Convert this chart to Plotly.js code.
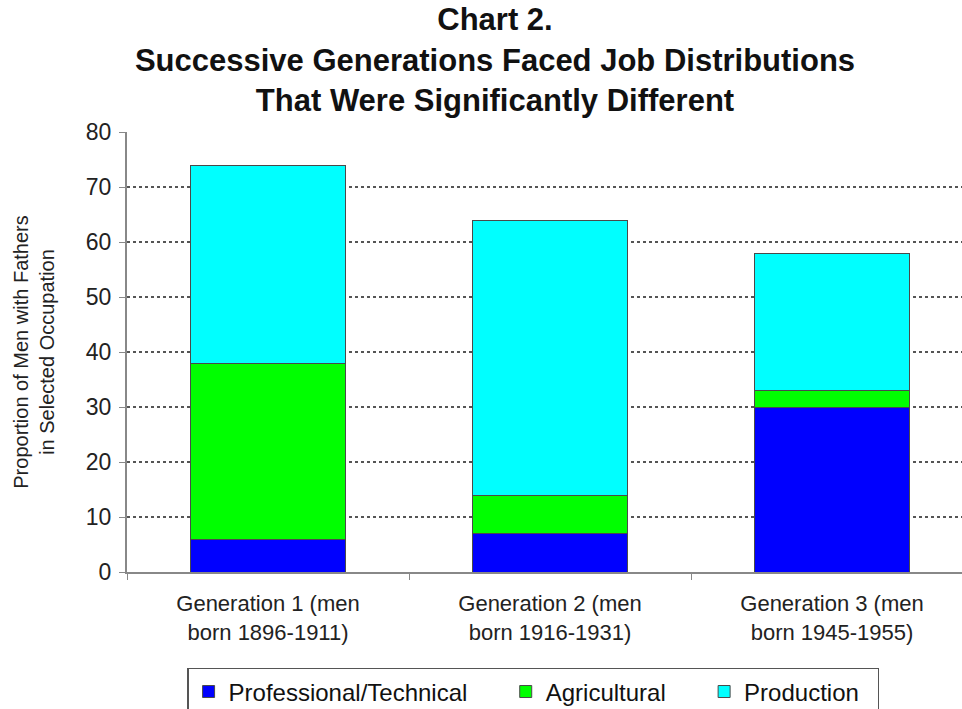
<!DOCTYPE html>
<html>
<head>
<meta charset="utf-8">
<script src="https://cdn.plot.ly/plotly-3.0.1.min.js"></script>
<style>
  html, body { margin: 0; padding: 0; overflow: hidden; background: #fff; }
  #chart { width: 990px; height: 709px; }
</style>
</head>
<body>
<div id="chart"></div>
<script>
// Generations compared
const generations = [
  "Generation 1 (men<br>born 1896-1911)",
  "Generation 2 (men<br>born 1916-1931)",
  "Generation 3 (men<br>born 1945-1955)"
];

// Share of men whose fathers held each occupation type (stacked)
const professionalTechnical = [6, 7, 30];
const agricultural = [32, 7, 3];
const production = [36, 50, 25];

const seriesNames = ["Professional/Technical", "Agricultural", "Production"];
const seriesColors = ["#0000FF", "#00FF00", "#00FFFF"];
const seriesValues = [professionalTechnical, agricultural, production];

const yTicks = [0, 10, 20, 30, 40, 50, 60, 70, 80];

// trailing no-break spaces widen the gaps inside the legend box
const legendPads = ["\u00a0\u00a0\u00a0\u00a0\u00a0", "\u00a0\u00a0\u00a0\u00a0\u00a0", "\u00a0\u00a0"];

const traces = seriesValues.map((vals, i) => ({
  type: "bar",
  name: seriesNames[i] + legendPads[i],
  x: generations,
  y: vals,
  marker: { color: seriesColors[i], line: { color: "#4a4a4a", width: 1 } },
  hoverinfo: "x+y"
}));

const layout = {
  width: 990,
  height: 709,
  barmode: "stack",
  bargap: 0.447,
  paper_bgcolor: "#ffffff",
  plot_bgcolor: "#ffffff",
  font: { family: "Arial, 'Liberation Sans', sans-serif", color: "#111" },
  margin: { l: 127, r: 17, t: 132, b: 137, autoexpand: false },
  title: {
    text: "<b>Chart 2.<br>Successive Generations Faced Job Distributions<br>That Were Significantly Different</b>",
    font: { size: 31, color: "#111", family: "Arial, 'Liberation Sans', sans-serif" },
    x: 0.5, xref: "container", xanchor: "center",
    y: 0.957, yref: "container", yanchor: "top"
  },
  xaxis: {
    type: "category",
    showline: true, linecolor: "#888", linewidth: 2,
    ticks: "outside", tickson: "boundaries", ticklen: 6, tickcolor: "#888", tickwidth: 1,
    tickfont: { size: 22, color: "#222" },
    ticklabelstandoff: 11,
    showgrid: false
  },
  yaxis: {
    range: [0, 80.05],
    tickvals: yTicks,
    showline: true, linecolor: "#888", linewidth: 2,
    ticks: "outside", ticklen: 6, tickcolor: "#888", tickwidth: 1,
    tickfont: { size: 23, color: "#222" },
    ticklabelstandoff: 3,
    showgrid: true, gridcolor: "#555", gridwidth: 1.5, griddash: "dot",
    zeroline: false,
    title: {
      text: "Proportion of Men with Fathers<br>in Selected Occupation",
      font: { size: 20, color: "#222" },
      standoff: 26
    }
  },
  legend: {
    orientation: "h",
    traceorder: "normal",
    x: 0.48, xanchor: "center",
    y: -0.218, yanchor: "top",
    bordercolor: "#555", borderwidth: 1.5,
    font: { size: 24, color: "#111" },
    itemclick: false, itemdoubleclick: false
  },
  showlegend: true
};

Plotly.newPlot("chart", traces, layout, { displayModeBar: false, staticPlot: true });
</script>
</body>
</html>
